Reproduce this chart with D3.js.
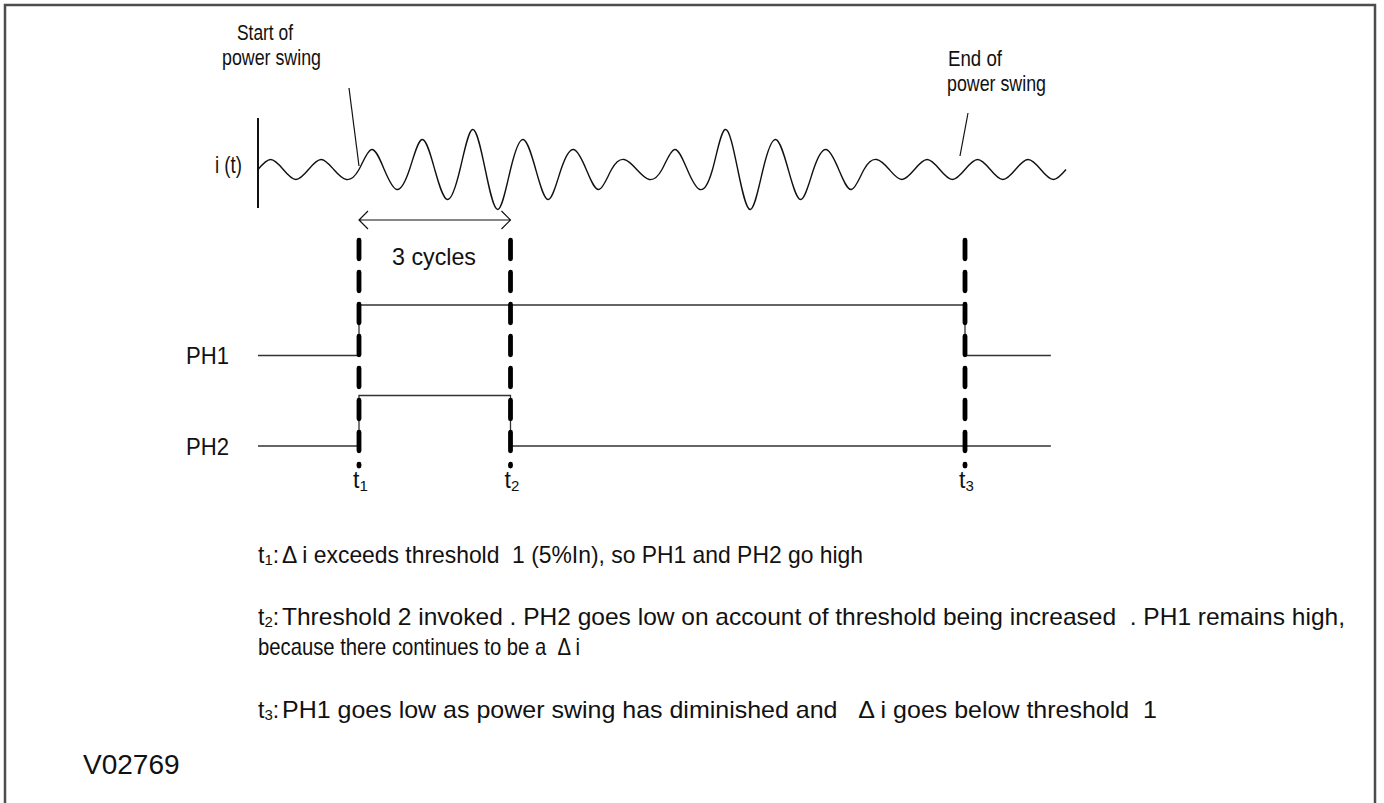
<!DOCTYPE html>
<html><head><meta charset="utf-8">
<script src="https://cdn.jsdelivr.net/npm/d3@7"></script>
<style>
html,body{margin:0;padding:0;background:#fff;}
svg{display:block;}
text{font-family:"Liberation Sans",Arial,sans-serif;fill:#111;}
</style></head>
<body>
<svg id="chart" width="1384" height="803"></svg>
<script>
// ---- data ----
// waveform: peak and trough amplitude of each cycle (relative units)
const wavePeaks   = [1, 1, 2, 3, 4, 3, 2, 1, 2, 4, 3, 2, 1, 1, 1, 1];
const waveTroughs = [-1, -1, -2, -3, -4, -3, -2, -1, -2, -4, -3, -2, -1, -1, -1, -1];
// event times (in cycles)
const eventNames = ["t1", "t2", "t3"];
const eventTimes = [2, 5, 14];
// logic signals: [time, level]
const signalNames = ["PH1", "PH2"];
const ph1Steps = [[0, 0], [2, 0], [2, 1], [14, 1], [14, 0], [15.7, 0]];
const ph2Steps = [[0, 0], [2, 0], [2, 1], [5, 1], [5, 0], [15.7, 0]];
const noteLines = [
  {sub: "1", text: "\u0394 i exceeds threshold  1 (5%In), so PH1 and PH2 go high"},
  {sub: "2", text: "Threshold 2 invoked . PH2 goes low on account of threshold being increased  . PH1 remains high,"},
  {sub: null, text: "because there continues to be a  \u0394 i"},
  {sub: "3", text: "PH1 goes low as power swing has diminished and   \u0394 i goes below threshold  1"}
];
const figureId = "V02769";

// ---- drawing ----
const svg = d3.select("#chart");
const x = d3.scaleLinear().domain([0, 16]).range([258, 1066]);
const yWave = d3.scaleLinear().domain([-4, 4]).range([209.5, 129.5]);
const rowY = d3.scalePoint().domain(signalNames).range([355.5, 446]);
const level = d3.scaleLinear().domain([0, 1]).range([0, -50.5]);

// frame
svg.append("rect").attr("x", 5).attr("y", 5).attr("width", 1370).attr("height", 830)
  .attr("fill", "none").attr("stroke", "#4d4d4d").attr("stroke-width", 2.5);

// waveform points: zero, peak, zero, trough per cycle
const wavePts = [];
wavePeaks.forEach((p, i) => {
  wavePts.push([i, 0], [i + 0.25, p], [i + 0.5, 0], [i + 0.75, waveTroughs[i]]);
});
wavePts.push([wavePeaks.length, 0]);

svg.append("line").attr("x1", x(0)).attr("x2", x(0)).attr("y1", 118).attr("y2", 208)
  .attr("stroke", "#111").attr("stroke-width", 2);
svg.append("path").datum(wavePts)
  .attr("d", d3.line().x(d => x(d[0])).y(d => yWave(d[1])).curve(d3.curveNatural))
  .attr("fill", "none").attr("stroke", "#111").attr("stroke-width", 1.4);

function ctext(str, px, py, size, len) {
  return svg.append("text").attr("x", px).attr("y", py).attr("font-size", size)
    .attr("textLength", len).attr("lengthAdjust", "spacingAndGlyphs")
    .attr("xml:space", "preserve").text(str);
}

ctext("i (t)", 215, 173, 24, 27);

// annotations
ctext("Start of", 237, 40, 22, 56);
ctext("power swing", 222, 65, 22, 99);
ctext("End of", 948, 66, 22, 54);
ctext("power swing", 947, 91, 22, 99);
svg.append("line").attr("x1", 349).attr("y1", 88).attr("x2", 359).attr("y2", 166)
  .attr("stroke", "#111").attr("stroke-width", 1.2);
svg.append("line").attr("x1", 968).attr("y1", 113).attr("x2", 960).attr("y2", 156)
  .attr("stroke", "#111").attr("stroke-width", 1.2);

// 3 cycles arrow
const ay = 220, ax1 = x(eventTimes[0]), ax2 = x(eventTimes[1]);
svg.append("path")
  .attr("d", `M${ax1},${ay}H${ax2}M${ax1 + 9},${ay - 9}L${ax1},${ay}L${ax1 + 9},${ay + 9}` +
             `M${ax2 - 9},${ay - 9}L${ax2},${ay}L${ax2 - 9},${ay + 9}`)
  .attr("fill", "none").attr("stroke", "#111").attr("stroke-width", 1.2);
ctext("3 cycles", 392, 265, 24, 84);

// signals
const stepLine = d3.line().x(d => x(d[0])).y(d => d.base + level(d[1]));
[ph1Steps, ph2Steps].forEach((steps, i) => {
  const base = rowY(signalNames[i]);
  const pts = steps.map(s => Object.assign([s[0], s[1]], {base}));
  svg.append("path").attr("d", stepLine(pts)).attr("fill", "none")
    .attr("stroke", "#333").attr("stroke-width", 1.3);
  ctext(signalNames[i], 186, base + 8.5, 24, 43);
});

// event dashed lines + labels
eventTimes.forEach((t, i) => {
  svg.append("line").attr("x1", x(t)).attr("x2", x(t)).attr("y1", 240.25).attr("y2", 466)
    .attr("stroke", "#000").attr("stroke-width", 4.8).attr("stroke-linecap", "round")
    .attr("stroke-dasharray", "18.5 13.5");
  const g = svg.append("text").attr("x", x(t) - 6).attr("y", 488).attr("font-size", 23);
  g.append("tspan").text("t");
  g.append("tspan").attr("font-size", 15).attr("dy", 3).text(eventNames[i].slice(1));
});

// notes
const noteY = [563, 625, 655, 718];
const noteLen = [583, 1065, 322, 877];
noteLines.forEach((n, i) => {
  let xs = 258;
  if (n.sub) {
    const p = svg.append("text").attr("x", 258).attr("y", noteY[i]).attr("font-size", 23);
    p.append("tspan").text("t");
    p.append("tspan").attr("font-size", 15).attr("dy", 2).text(n.sub);
    p.append("tspan").attr("dy", -2).text(":");
    xs = 258 + 22;
  }
  ctext(n.text, xs + (n.sub ? 2 : 0), noteY[i], 24, noteLen[i] - (n.sub ? 2 : 0));
});

svg.append("text").attr("x", 83).attr("y", 774).attr("font-size", 28).text(figureId);
</script>
</body></html>
